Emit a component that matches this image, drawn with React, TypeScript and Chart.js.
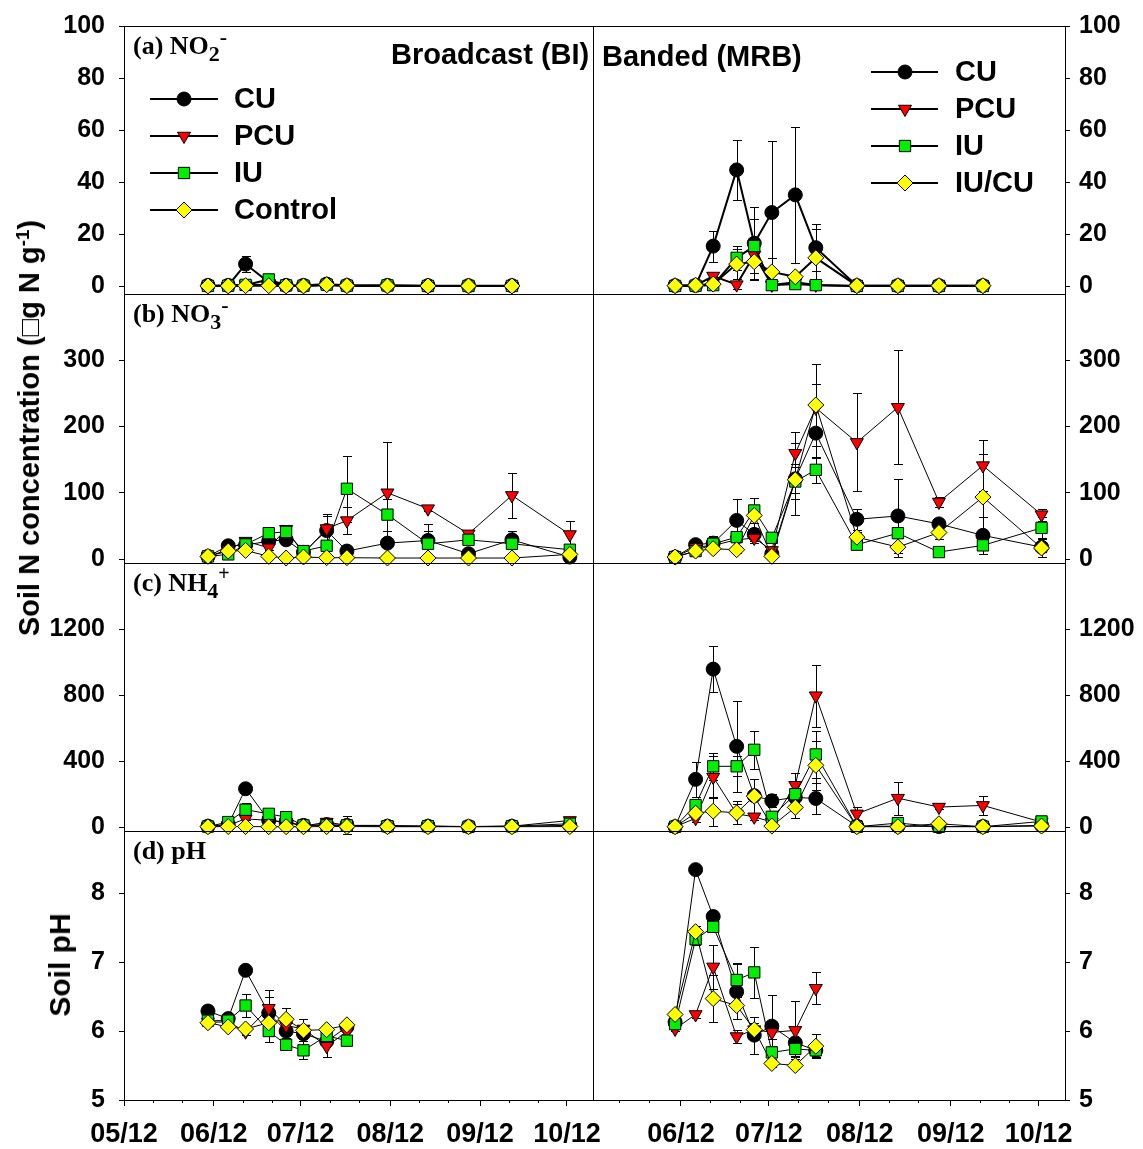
import React, { useEffect, useRef } from 'react';
import { Chart, registerables } from 'chart.js';
import { drawPoint } from 'chart.js/helpers';

Chart.register(...registerables);

// ---------------- data ----------------
const SAMPLE_DATES = ['05/30', '06/06', '06/12', '06/20', '06/26', '07/02', '07/10', '07/17', '07/31', '08/14', '08/28', '09/12', '10/02'];
const X_TICK_DATES = ['05/01', '06/01', '07/01', '08/01', '09/01', '10/01'];
const X_TICK_LABELS = ['05/12', '06/12', '07/12', '08/12', '09/12', '10/12'];
const X_MINOR_DATES = ['05/11', '05/21', '06/11', '06/21', '07/11', '07/21', '08/11', '08/21', '09/11', '09/21'];

const BI_NAMES = ['CU', 'PCU', 'IU', 'Control'];
const MRB_NAMES = ['CU', 'PCU', 'IU', 'IU/CU'];

const Y_TICKS_NO2 = [0, 20, 40, 60, 80, 100];
const Y_TICKS_NO3 = [0, 100, 200, 300];
const Y_TICKS_NH4 = [0, 400, 800, 1200];
const Y_TICKS_PH = [5, 6, 7, 8];

// (a) NO2- , Broadcast
const NO2_BI_CU = [0.3, 0.3, 8.5, 1.5, 0.3, 0.3, 0.8, 0.3, 0.3, 0.2, 0.2, 0.2];
const NO2_BI_CU_SE = [0, 0, 3.0, 0.5, 0, 0, 0.4, 0, 0, 0, 0, 0];
const NO2_BI_PCU = [0.1, 0.2, 0.6, 0.5, 0.2, 0.2, 0.5, 0.2, 0.2, 0.1, 0.1, 0.1];
const NO2_BI_PCU_SE = [0, 0, 0, 0, 0, 0, 0, 0, 0, 0, 0, 0];
const NO2_BI_IU = [0.1, 0.2, 0.5, 2.6, 0.3, 0.2, 0.6, 0.2, 0.3, 0.1, 0.1, 0.1];
const NO2_BI_IU_SE = [0, 0, 0, 0.8, 0, 0, 0, 0, 0, 0, 0, 0];
const NO2_BI_CTRL = [0.1, 0.1, 0.2, 0.2, 0.1, 0.1, 0.6, 0.2, 0.1, 0.1, 0.1, 0.1];
const NO2_BI_CTRL_SE = [0, 0, 0, 0, 0, 0, 0, 0, 0, 0, 0, 0];
// (a) NO2- , Banded
const NO2_MRB_CU = [0.2, 0.3, 15.4, 44.7, 16.5, 28.3, 35.1, 14.8, 0.2, 0.2, 0.2, 0.2];
const NO2_MRB_CU_SE = [0, 0, 6, 11.5, 14, 27.5, 26, 9, 0, 0, 0, 0];
const NO2_MRB_PCU = [0.1, 0.3, 3.9, 0.6, 12, 0.5, 1.5, 0.5, 0.1, 0.1, 0.1, 0.1];
const NO2_MRB_PCU_SE = [0, 0, 1, 1.5, 3, 0.5, 1, 0.5, 0, 0, 0, 0];
const NO2_MRB_IU = [0.1, 0.2, 0.4, 10.9, 15.4, 0.4, 0.8, 0.4, 0.1, 0.1, 0.1, 0.1];
const NO2_MRB_IU_SE = [0, 0, 0.5, 4.6, 10.5, 0.5, 1, 0.5, 0, 0, 0, 0];
const NO2_MRB_IUCU = [0.2, 0.4, 0.8, 8.5, 9.4, 5.5, 3.6, 10.9, 0.2, 0.2, 0.2, 0.2];
const NO2_MRB_IUCU_SE = [0, 0, 0.5, 5.7, 6.5, 5.5, 2, 11, 0, 0, 0, 0];

// (b) NO3- , Broadcast
const NO3_BI_CU = [4, 20, 21, 27, 29, 10, 43, 12, 24, 28, 8, 29, 3];
const NO3_BI_CU_SE = [1, 3, 4, 6, 5, 3, 22, 4, 19, 25, 5, 14, 3];
const NO3_BI_PCU = [4, 14, 27, 17, 45, 8, 46, 58, 100, 76, 38, 96, 37];
const NO3_BI_PCU_SE = [1, 3, 4, 4, 4, 2, 22, 20, 76, 3, 5, 34, 21];
const NO3_BI_IU = [4, 7, 22, 39, 41, 12, 20, 106, 67, 23, 29, 23, 14];
const NO3_BI_IU_SE = [1, 2, 4, 5, 5, 3, 4, 50, 24, 20, 5, 5, 4];
const NO3_BI_CTRL = [4, 12, 13, 4, 1.5, 3, 2, 2, 1.5, 1.5, 1.5, 1.5, 7];
const NO3_BI_CTRL_SE = [1, 2, 3, 1, 0.5, 1, 0.5, 0.5, 0.5, 0.5, 0.5, 0.5, 2];
// (b) NO3- , Banded
const NO3_MRB_CU = [3, 21.7, 24, 58.3, 37.2, 8, 121, 190, 60, 65, 53, 35.7, 18];
const NO3_MRB_CU_SE = [1, 3, 10, 33, 10, 5, 54, 38, 16, 56, 8, 28, 8];
const NO3_MRB_PCU = [3, 18, 20.6, 29, 31.7, 13, 159.6, 228, 176, 229, 86, 141, 67];
const NO3_MRB_PCU_SE = [1, 3, 5, 10, 8, 5, 32, 36, 74, 86, 8, 38, 9];
const NO3_MRB_IU = [3, 12, 23, 33, 73.3, 32, 117, 134.6, 21.6, 39, 10.5, 20.6, 47];
const NO3_MRB_IU_SE = [1, 2, 5, 8, 19, 5, 27, 20, 6, 8, 4, 6, 16];
const NO3_MRB_IUCU = [3, 12, 15.6, 14, 65.8, 4, 119.6, 232.5, 33, 18, 40, 93.5, 16.6];
const NO3_MRB_IUCU_SE = [1, 3, 4, 5, 27, 3, 20, 62, 8, 15, 10, 65, 13];

// (c) NH4+ , Broadcast
const NH4_BI_CU = [5, 15, 232, 40, 30, 10, 15, 10, 5, 5, 3, 5, 10];
const NH4_BI_CU_SE = [1, 5, 10, 10, 10, 5, 5, 55, 3, 3, 2, 3, 5];
const NH4_BI_PCU = [3, 10, 50, 40, 30, 5, 30, 10, 10, 5, 3, 5, 40];
const NH4_BI_PCU_SE = [1, 3, 10, 10, 5, 3, 10, 10, 5, 3, 2, 3, 15];
const NH4_BI_IU = [3, 30, 105, 80, 60, 10, 10, 10, 5, 5, 2, 5, 20];
const NH4_BI_IU_SE = [1, 5, 40, 10, 35, 5, 5, 5, 3, 3, 2, 3, 5];
const NH4_BI_CTRL = [2, 3, 3, 2, 2, 2, 3, 3, 2, 2, 2, 2, 3];
const NH4_BI_CTRL_SE = [1, 1, 1, 1, 1, 1, 1, 1, 1, 1, 1, 1, 1];
// (c) NH4+ , Banded
const NH4_MRB_CU = [2, 289, 957, 489, 190, 159, 180, 173, 5, 5, 3, 3, 10];
const NH4_MRB_CU_SE = [1, 105, 140, 275, 20, 40, 30, 95, 3, 3, 2, 2, 5];
const NH4_MRB_PCU = [2, 53, 303, 80, 62, 30, 253, 796, 80, 175, 121, 131, 30];
const NH4_MRB_PCU_SE = [1, 20, 125, 60, 20, 10, 75, 187, 40, 100, 10, 56, 10];
const NH4_MRB_IU = [2, 133, 368, 368, 468, 62, 199, 440, 2, 24, 2, 2, 34];
const NH4_MRB_IU_SE = [1, 30, 80, 60, 117, 20, 70, 143, 2, 5, 2, 2, 5];
const NH4_MRB_IUCU = [2, 84, 96, 86, 187, 6, 119, 374, 2, 2, 20, 2, 6];
const NH4_MRB_IUCU_SE = [1, 20, 87, 70, 107, 5, 65, 150, 2, 2, 5, 2, 3];

// (d) pH , Broadcast
const PH_BI_CU = [6.29, 6.18, 6.88, 6.26, 6.0, 5.96, 5.85, 6.06];
const PH_BI_CU_SE = [0.03, 0.03, 0.05, 0.24, 0.1, 0.1, 0.05, 0.05];
const PH_BI_PCU = [6.13, 6.13, 5.99, 6.33, 6.08, 6.03, 5.78, 5.99];
const PH_BI_PCU_SE = [0.03, 0.03, 0.05, 0.27, 0.1, 0.15, 0.15, 0.05];
const PH_BI_IU = [6.15, 6.15, 6.37, 6.0, 5.8, 5.72, 5.93, 5.86];
const PH_BI_IU_SE = [0.03, 0.03, 0.16, 0.16, 0.05, 0.13, 0.05, 0.05];
const PH_BI_CTRL = [6.12, 6.06, 6.03, 6.12, 6.17, 6.01, 6.02, 6.09];
const PH_BI_CTRL_SE = [0.03, 0.03, 0.03, 0.05, 0.16, 0.05, 0.05, 0.05];
// (d) pH , Banded
const PH_MRB_CU = [6.13, 8.34, 7.66, 6.57, 5.94, 6.07, 5.83, 5.72];
const PH_MRB_CU_SE = [0.05, 0.05, 0.05, 0.4, 0.27, 0.45, 0.2, 0.1];
const PH_MRB_PCU = [6.03, 6.24, 6.93, 5.92, 6.02, 5.98, 6.01, 6.62];
const PH_MRB_PCU_SE = [0.03, 0.05, 0.32, 0.1, 0.1, 0.1, 0.42, 0.23];
const PH_MRB_IU = [6.1, 7.33, 7.51, 6.74, 6.85, 5.69, 5.74, 5.72];
const PH_MRB_IU_SE = [0.05, 0.08, 0.05, 0.24, 0.37, 0.1, 0.1, 0.1];
const PH_MRB_IUCU = [6.24, 7.44, 6.47, 6.37, 6.02, 5.53, 5.5, 5.78];
const PH_MRB_IUCU_SE = [0.05, 0.08, 0.34, 0.2, 0.1, 0.05, 0.05, 0.17];

const DATA = [
  [[NO2_BI_CU, NO2_BI_PCU, NO2_BI_IU, NO2_BI_CTRL], [NO2_MRB_CU, NO2_MRB_PCU, NO2_MRB_IU, NO2_MRB_IUCU]],
  [[NO3_BI_CU, NO3_BI_PCU, NO3_BI_IU, NO3_BI_CTRL], [NO3_MRB_CU, NO3_MRB_PCU, NO3_MRB_IU, NO3_MRB_IUCU]],
  [[NH4_BI_CU, NH4_BI_PCU, NH4_BI_IU, NH4_BI_CTRL], [NH4_MRB_CU, NH4_MRB_PCU, NH4_MRB_IU, NH4_MRB_IUCU]],
  [[PH_BI_CU, PH_BI_PCU, PH_BI_IU, PH_BI_CTRL], [PH_MRB_CU, PH_MRB_PCU, PH_MRB_IU, PH_MRB_IUCU]],
];
const ERRS = [
  [[NO2_BI_CU_SE, NO2_BI_PCU_SE, NO2_BI_IU_SE, NO2_BI_CTRL_SE], [NO2_MRB_CU_SE, NO2_MRB_PCU_SE, NO2_MRB_IU_SE, NO2_MRB_IUCU_SE]],
  [[NO3_BI_CU_SE, NO3_BI_PCU_SE, NO3_BI_IU_SE, NO3_BI_CTRL_SE], [NO3_MRB_CU_SE, NO3_MRB_PCU_SE, NO3_MRB_IU_SE, NO3_MRB_IUCU_SE]],
  [[NH4_BI_CU_SE, NH4_BI_PCU_SE, NH4_BI_IU_SE, NH4_BI_CTRL_SE], [NH4_MRB_CU_SE, NH4_MRB_PCU_SE, NH4_MRB_IU_SE, NH4_MRB_IUCU_SE]],
  [[PH_BI_CU_SE, PH_BI_PCU_SE, PH_BI_IU_SE, PH_BI_CTRL_SE], [PH_MRB_CU_SE, PH_MRB_PCU_SE, PH_MRB_IU_SE, PH_MRB_IUCU_SE]],
];

// ---------------- helpers / layout ----------------
const toDay = (md: string): number => {
  const [m, d] = md.split('/').map(Number);
  return Math.round((Date.UTC(2012, m - 1, d) - Date.UTC(2012, 4, 1)) / 86400000);
};
const SAMPLE_DAYS = SAMPLE_DATES.map(toDay);
const X_TICK_DAYS = X_TICK_DATES.map(toDay);
const X_MINOR_DAYS = X_MINOR_DATES.map(toDay);

const FONT_SANS = '"Liberation Sans", Arial, sans-serif';
const FONT_SERIF = '"Liberation Serif", "Times New Roman", serif';

const MARKERS = [
  { pointStyle: 'circle', color: '#000000', radius: 7, rotation: 0 },
  { pointStyle: 'triangle', color: '#ff0000', radius: 7.5, rotation: 180 },
  { pointStyle: 'rect', color: '#00ee00', radius: 8, rotation: 0 },
  { pointStyle: 'rectRot', color: '#ffff00', radius: 8, rotation: 0 },
];

const ROW_TOP = [26, 294, 563, 831];
const ROW_BOTTOM = [294, 563, 831, 1100];
const Y_MIN = [-3, -6, -24, 5];
const Y_MAX = [100, 400, 1600, 8.9];
const Y_TICKS = [Y_TICKS_NO2, Y_TICKS_NO3, Y_TICKS_NH4, Y_TICKS_PH];
const LINE_W = [2, 1, 1, 1];
const COLS = [
  { canvasLeft: 0, canvasW: 612, padL: 0, padR: 19, axisW: 124, xMin: 0, xMax: 162, yPos: 'left', tickPad: 14 },
  { canvasLeft: 573, canvasW: 570, padL: 20, padR: 0, axisW: 78, xMin: 1, xMax: 162, yPos: 'right', tickPad: 9 },
];

type Part = { t: string; size: number; dy: number };
const PANEL_LABELS: Part[][] = [
  [{ t: '(a) NO', size: 26, dy: 0 }, { t: '2', size: 22, dy: 7 }, { t: '-', size: 22, dy: -10 }],
  [{ t: '(b) NO', size: 26, dy: 0 }, { t: '3', size: 22, dy: 7 }, { t: '-', size: 22, dy: -10 }],
  [{ t: '(c) NH', size: 26, dy: 0 }, { t: '4', size: 22, dy: 7 }, { t: '+', size: 20, dy: -11 }],
  [{ t: '(d) pH', size: 26, dy: 0 }],
];

function drawRich(ctx: CanvasRenderingContext2D, x: number, y: number, parts: Part[]) {
  let cx = x;
  for (const p of parts) {
    ctx.font = `bold ${p.size}px ${FONT_SERIF}`;
    ctx.fillText(p.t, cx, y + p.dy);
    cx += ctx.measureText(p.t).width;
  }
}

const errorBarPlugin = {
  id: 'errorBars',
  beforeDatasetsDraw(chart: any) {
    const ctx = chart.ctx;
    const xs = chart.scales.x;
    const ys = chart.scales.y;
    ctx.save();
    ctx.strokeStyle = '#000';
    ctx.lineWidth = 1;
    chart.data.datasets.forEach((ds: any) => {
      const errs = ds.errors;
      if (!errs) return;
      ds.data.forEach((p: any, j: number) => {
        const e = errs[j];
        if (!e) return;
        const x = Math.round(xs.getPixelForValue(p.x)) + 0.5;
        const y1 = Math.round(ys.getPixelForValue(p.y + e)) + 0.5;
        const y2 = Math.round(ys.getPixelForValue(p.y - e)) + 0.5;
        ctx.beginPath();
        ctx.moveTo(x, y1);
        ctx.lineTo(x, y2);
        ctx.moveTo(x - 4.5, y1);
        ctx.lineTo(x + 4.5, y1);
        ctx.moveTo(x - 4.5, y2);
        ctx.lineTo(x + 4.5, y2);
        ctx.stroke();
      });
    });
    ctx.restore();
  },
};

const framePlugin = {
  id: 'frame',
  beforeDatasetsDraw(chart: any) {
    const { left, top, right, bottom } = chart.chartArea;
    const ctx = chart.ctx;
    ctx.save();
    ctx.strokeStyle = '#000';
    ctx.lineWidth = 1;
    ctx.strokeRect(Math.round(left) + 0.5, Math.round(top) + 0.5, Math.round(right - left), Math.round(bottom - top));
    ctx.restore();
  },
};

function makeOverlay(row: number, col: number, ox: number, oy: number) {
  return {
    id: 'overlay',
    afterDraw(chart: any) {
      const ctx = chart.ctx;
      const area = chart.chartArea;
      ctx.save();
      ctx.fillStyle = '#000';
      ctx.strokeStyle = '#000';
      // minor x ticks on the bottom row
      if (row === 3) {
        const xs = chart.scales.x;
        ctx.lineWidth = 1;
        ctx.beginPath();
        X_MINOR_DAYS.forEach((d) => {
          if (d < xs.min || d > xs.max) return;
          const x = Math.round(xs.getPixelForValue(d)) + 0.5;
          ctx.moveTo(x, area.bottom);
          ctx.lineTo(x, area.bottom + 3);
        });
        ctx.stroke();
      }
      ctx.textAlign = 'left';
      ctx.textBaseline = 'alphabetic';
      if (col === 0) {
        drawRich(ctx, area.left + 9, area.top + 28, PANEL_LABELS[row]);
      }
      if (row === 0) {
        ctx.font = `bold 29px ${FONT_SANS}`;
        if (col === 0) ctx.fillText('Broadcast (BI)', 391 - ox, 64 - oy);
        else ctx.fillText('Banded (MRB)', 602 - ox, 66 - oy);
        // legend
        const names = col === 0 ? BI_NAMES : MRB_NAMES;
        const lx0 = col === 0 ? 150 : 871;
        const lx1 = col === 0 ? 218 : 938;
        const lxm = col === 0 ? 184 : 905;
        const ltx = col === 0 ? 234 : 955;
        const ly0 = col === 0 ? 99 : 72;
        const step = 37;
        names.forEach((name, i) => {
          const y = ly0 + i * step - oy;
          ctx.lineWidth = 2;
          ctx.strokeStyle = '#000';
          ctx.beginPath();
          ctx.moveTo(lx0 - ox, y);
          ctx.lineTo(lx1 - ox, y);
          ctx.stroke();
          const m = MARKERS[i];
          ctx.fillStyle = m.color;
          ctx.strokeStyle = '#000';
          ctx.lineWidth = 1;
          drawPoint(ctx, { pointStyle: m.pointStyle as any, radius: m.radius, rotation: m.rotation, borderWidth: 1 }, lxm - ox, y);
          ctx.fillStyle = '#000';
          ctx.font = `bold 29px ${FONT_SANS}`;
          ctx.textBaseline = 'middle';
          ctx.fillText(name, ltx - ox, y + 1);
          ctx.textBaseline = 'alphabetic';
        });
      }
      ctx.restore();
    },
  };
}

function Panel({ row, col }: { row: number; col: number }) {
  const ref = useRef<HTMLCanvasElement>(null);
  const c = COLS[col];
  const canvasTop = ROW_TOP[row] - 20;
  const canvasH = row < 3 ? ROW_BOTTOM[row] - ROW_TOP[row] + 40 : 1149 - canvasTop;
  useEffect(() => {
    if (!ref.current) return;
    const values = DATA[row][col];
    const errors = ERRS[row][col];
    const names = col === 0 ? BI_NAMES : MRB_NAMES;
    const tickFont = { family: FONT_SANS, size: 25, weight: 'bold' as const };
    const xTickFont = { family: FONT_SANS, size: 27, weight: 'bold' as const };
    const datasets = values.map((vals, i) => ({
      label: names[i],
      data: vals.map((v, j) => ({ x: SAMPLE_DAYS[j], y: v })),
      errors: errors[i],
      borderColor: '#000',
      borderWidth: LINE_W[row],
      pointStyle: MARKERS[i].pointStyle,
      pointRadius: MARKERS[i].radius,
      pointHoverRadius: MARKERS[i].radius,
      pointRotation: MARKERS[i].rotation,
      pointBackgroundColor: MARKERS[i].color,
      pointBorderColor: '#000',
      pointBorderWidth: 1,
      pointHoverBorderWidth: 1,
      fill: false,
      tension: 0,
      clip: false,
      order: values.length - i,
    }));
    const chart = new Chart(ref.current, {
      type: 'line',
      data: { datasets } as any,
      options: {
        responsive: false,
        animation: false,
        devicePixelRatio: 1,
        events: [],
        layout: { padding: { left: c.padL, right: c.padR, top: 20, bottom: row < 3 ? 20 : 0 } },
        plugins: { legend: { display: false }, tooltip: { enabled: false }, title: { display: false } },
        scales: {
          x: {
            type: 'linear',
            display: row === 3,
            position: 'bottom',
            min: c.xMin,
            max: c.xMax,
            border: { display: false },
            grid: { display: true, drawOnChartArea: false, drawTicks: true, tickLength: 6, color: '#000', lineWidth: 1 },
            ticks: {
              font: xTickFont,
              color: '#000',
              padding: 12,
              autoSkip: false,
              maxRotation: 0,
              minRotation: 0,
              callback: (v: any) => {
                const i = X_TICK_DAYS.indexOf(Number(v));
                return i >= 0 ? X_TICK_LABELS[i] : '';
              },
            },
            afterBuildTicks: (s: any) => {
              s.ticks = X_TICK_DAYS.filter((d) => d >= c.xMin && d <= c.xMax).map((d) => ({ value: d }));
            },
            afterFit: (s: any) => {
              if (row === 3) s.height = 49;
              s.paddingLeft = 0;
              s.paddingRight = 0;
            },
          },
          y: {
            type: 'linear',
            position: c.yPos as any,
            min: Y_MIN[row],
            max: Y_MAX[row],
            border: { display: false },
            grid: { display: true, drawOnChartArea: false, drawTicks: true, tickLength: 5, color: '#000', lineWidth: 1 },
            ticks: {
              font: tickFont,
              color: '#000',
              padding: c.tickPad,
              autoSkip: false,
              callback: (v: any) => String(v),
            },
            afterBuildTicks: (s: any) => {
              s.ticks = Y_TICKS[row].map((v) => ({ value: v }));
            },
            afterFit: (s: any) => {
              s.width = c.axisW;
              s.paddingTop = 0;
              s.paddingBottom = 0;
            },
          },
        },
      } as any,
      plugins: [framePlugin, errorBarPlugin, makeOverlay(row, col, c.canvasLeft, canvasTop)],
    });
    return () => chart.destroy();
  }, [row, col]);
  return (
    <canvas
      ref={ref}
      width={c.canvasW}
      height={canvasH}
      style={{ position: 'absolute', left: c.canvasLeft, top: canvasTop, width: c.canvasW, height: canvasH }}
    />
  );
}

export default function App() {
  const cells: { row: number; col: number }[] = [];
  for (let r = 0; r < 4; r++) for (let k = 0; k < 2; k++) cells.push({ row: r, col: k });
  return (
    <div style={{ position: 'absolute', left: 0, top: 0, width: 1143, height: 1149, background: '#fff', overflow: 'hidden' }}>
      {cells.map((p) => (
        <Panel key={`${p.row}-${p.col}`} row={p.row} col={p.col} />
      ))}
      <div
        style={{
          position: 'absolute',
          left: 31,
          top: 428,
          transform: 'translate(-50%, -50%) rotate(-90deg)',
          fontFamily: FONT_SANS,
          fontWeight: 'bold',
          fontSize: 29,
          lineHeight: '30px',
          whiteSpace: 'nowrap',
          color: '#000',
        }}
      >
        Soil N concentration (□g N g<span style={{ fontSize: 19, position: 'relative', top: -10 }}>-1</span>)
      </div>
      <div
        style={{
          position: 'absolute',
          left: 60,
          top: 965,
          transform: 'translate(-50%, -50%) rotate(-90deg)',
          fontFamily: FONT_SANS,
          fontWeight: 'bold',
          fontSize: 30,
          lineHeight: '30px',
          whiteSpace: 'nowrap',
          color: '#000',
        }}
      >
        Soil pH
      </div>
    </div>
  );
}
